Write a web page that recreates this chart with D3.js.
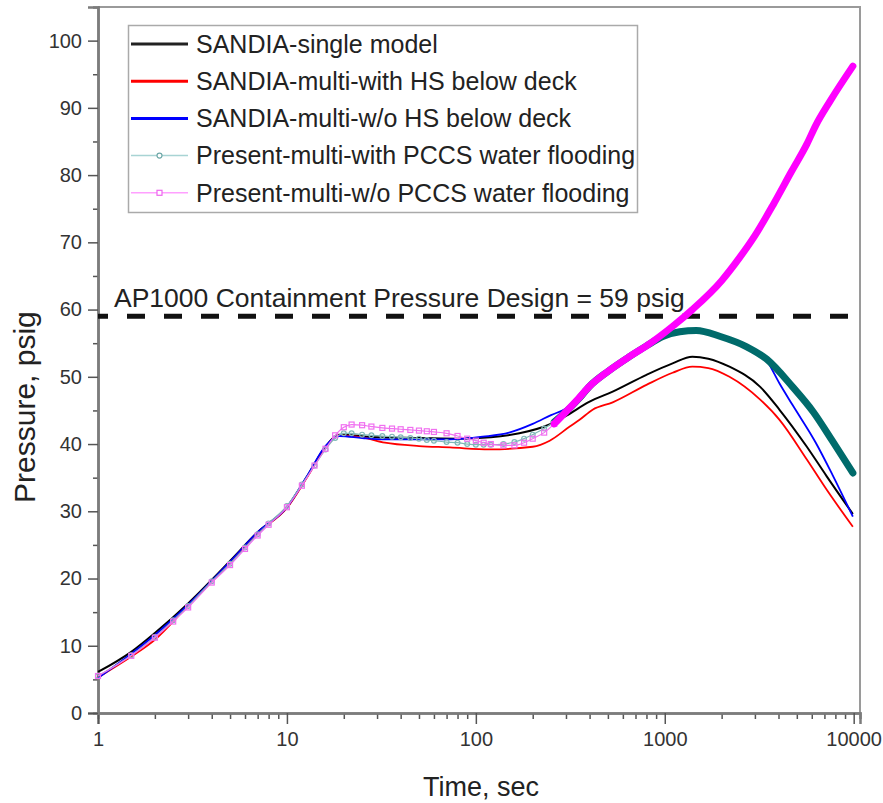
<!DOCTYPE html>
<html>
<head>
<meta charset="utf-8">
<script src="https://cdn.jsdelivr.net/npm/d3@7"></script>
<style>
	body { margin: 0; background: #fff; }
	text { font-family: Arial, "Liberation Sans", sans-serif; }
</style>
</head>
<body>
<div id="viz"></div>
<script>

//data: [time sec, pressure psig]
let sandiaSingle = [[1,6.1],[1.5,9.1],[2,11.9],[3,16.3],[5,22.6],[7,26.9],[10,30.6],[13,35.5],[16,39.6],[19,41.4],
	[22,41.3],[30,41.0],[50,40.9],[80,40.8],[120,41.0],[170,41.6],[240,42.8],[300,44.2],[400,46.3],[530,47.8],
	[800,50.3],[1100,52.0],[1400,53.0],[1700,52.7],[2200,51.5],[3200,48.5],[4050,45.1],[5650,39.6],[7200,35.2],[9900,29.6]]

let sandiaMultiHS = [[1,5.3],[1.5,8.4],[2,10.9],[3,16.0],[5,22.4],[7,26.8],[10,30.5],[13,35.4],[16,39.5],[19,41.3],
	[25,41.0],[33,40.2],[50,39.7],[73,39.5],[118,39.2],[200,39.6],[246,40.5],[314,42.6],[354,43.6],[415,45.1],
	[530,46.2],[800,48.8],[1100,50.6],[1400,51.5],[1700,51.3],[2200,50.0],[3200,46.6],[4050,43.6],[5650,37.7],[7200,33.2],[9900,27.7]]

let sandiaMultiNoHS = [[1,5.2],[1.5,8.8],[2,11.6],[3,16.1],[5,22.5],[7,26.9],[10,30.6],[13,35.6],[16,39.7],[19,41.2],
	[25,40.9],[32,40.7],[73,40.7],[109,41.1],[150,41.7],[200,43.0],[250,44.3],[300,45.3],[350,46.9],[400,48.6],
	[500,50.8],[650,53.0],[800,54.6],[975,56.0],[1200,56.7],[1470,56.9],[1970,56.0],[2700,54.5],[3470,52.4],
	[4050,49.0],[4750,45.8],[6300,40.2],[7700,35.5],[9900,29.2]]

let presentPCCS = [[1,5.5],[1.5,8.6],[2,11.3],[2.5,13.8],[3,15.9],[4,19.6],[5,22.2],[6,24.6],[7,26.6],[8,28.2],
	[10,30.8],[12,34.0],[14,36.8],[16,39.2],[18,40.9],[20,41.6],[22,41.6],[25,41.4],[28,41.3],[32,41.2],[36,41.1],
	[40,41.0],[45,40.9],[50,40.8],[55,40.6],[60,40.5],[70,40.3],[80,40.2],[90,40.0],[100,39.9],[110,39.9],[120,39.9],
	[140,40.0],[160,40.3],[180,40.8],[200,41.4],[230,42.3],[260,43.3],[300,44.8],[350,46.7],[400,48.6],[500,50.8],
	[650,53.0],[800,54.6],[975,56.0],[1200,56.7],[1470,56.9],[1970,56.0],[2700,54.5],[3470,52.6],[4750,48.5],
	[6100,44.8],[7700,40.5],[9900,35.7]]

let presentNoPCCS = [[1,5.5],[1.5,8.5],[2,11.2],[2.5,13.6],[3,15.7],[4,19.4],[5,22.0],[6,24.4],[7,26.4],[8,28.0],
	[10,30.6],[12,33.8],[14,36.8],[16,39.3],[18,41.3],[20,42.5],[22,42.9],[25,42.8],[28,42.6],[32,42.4],[36,42.3],
	[40,42.2],[45,42.1],[50,42.0],[55,41.9],[60,41.8],[70,41.6],[80,41.2],[90,40.8],[100,40.5],[110,40.2],[120,40.0],
	[140,39.8],[160,39.8],[180,40.2],[200,40.8],[230,41.7],[260,43.0],[300,44.8],[350,46.8],[400,48.6],[500,50.8],
	[650,53.0],[800,54.6],[1100,57.5],[1400,60.0],[2000,64.3],[2500,67.8],[3000,71.0],[3750,75.6],[4700,80.6],
	[5650,84.6],[6300,87.4],[7500,91.0],[9900,96.2]]

let seriesNames = ['SANDIA-single model', 'SANDIA-multi-with HS below deck', 'SANDIA-multi-w/o HS below deck',
	'Present-multi-with PCCS water flooding', 'Present-multi-w/o PCCS water flooding']

let xMajorTicks = [1, 10, 100, 1000, 10000]
let yMajorTicks = [0, 10, 20, 30, 40, 50, 60, 70, 80, 90, 100]
let yMinorTicks = [5, 15, 25, 35, 45, 55, 65, 75, 85, 95]
let designPressure = 59

//layout
let width = 883, height = 803
let svg = d3.select('#viz')
			.append('svg')
			.attr('width', width)
			.attr('height', height)

let xScale = d3.scaleLog()
				.domain([1, 10800])
				.range([98, 860])

let yScale = d3.scaleLinear()
				.domain([0, 105])
				.range([713, 7])

let xMinorTicks = []
xMajorTicks.slice(0, -1).forEach(m => d3.range(2, 10).forEach(k => xMinorTicks.push(m * k)))

//frame
svg.append('path')
	.attr('d', `M${xScale.range()[0]},${yScale.range()[1]} H${xScale.range()[1]} V${yScale.range()[0]}`)
	.attr('fill', 'none')
	.attr('stroke', '#9a9a9a')
	.attr('stroke-width', 2)

//axes
function styleAxis(g) {
	g.select('.domain').attr('stroke', '#7c7c7c').attr('stroke-width', 2.5)
	g.selectAll('.tick line').attr('stroke', '#555').attr('stroke-width', 1.5)
	g.selectAll('.tick text').attr('fill', '#333').style('font-size', '20px')
}

svg.append('g')
	.attr('transform', `translate(0,${yScale(0)})`)
	.call(d3.axisBottom(xScale).tickValues(xMinorTicks).tickSize(6).tickFormat(''))
	.call(styleAxis)

svg.append('g')
	.attr('transform', `translate(0,${yScale(0)})`)
	.call(d3.axisBottom(xScale).tickValues(xMajorTicks).tickSize(11).tickPadding(8).tickFormat(d3.format('d')))
	.call(styleAxis)

svg.append('g')
	.attr('transform', `translate(${xScale(1)},0)`)
	.call(d3.axisLeft(yScale).tickValues(yMinorTicks).tickSize(5).tickFormat(''))
	.call(styleAxis)

svg.append('g')
	.attr('transform', `translate(${xScale(1)},0)`)
	.call(d3.axisLeft(yScale).tickValues(yMajorTicks).tickSize(10).tickPadding(6))
	.call(styleAxis)

//axis titles
svg.append('text')
	.attr('transform', `translate(35,${yScale(45.5)}) rotate(-90)`)
	.attr('text-anchor', 'middle')
	.style('font-size', '30px')
	.attr('fill', '#222')
	.text('Pressure, psig')

svg.append('text')
	.attr('x', 481)
	.attr('y', 796)
	.attr('text-anchor', 'middle')
	.style('font-size', '27px')
	.attr('fill', '#222')
	.text('Time, sec')

//design pressure line
svg.append('line')
	.attr('x1', xScale.range()[0])
	.attr('x2', xScale.range()[1])
	.attr('y1', yScale(designPressure))
	.attr('y2', yScale(designPressure))
	.attr('stroke', '#111')
	.attr('stroke-width', 5)
	.attr('stroke-dasharray', '18 19')
	.attr('stroke-dashoffset', 8)

svg.append('text')
	.attr('x', 114)
	.attr('y', yScale(designPressure) - 9)
	.style('font-size', '26.5px')
	.attr('fill', '#222')
	.text(`AP1000 Containment Pressure Design = ${designPressure} psig`)

//curves
let line = d3.line()
			.x(d => xScale(d[0]))
			.y(d => yScale(d[1]))
			.curve(d3.curveMonotoneX)

let thinLines = [
	{data: sandiaSingle, color: '#000', w: 2},
	{data: sandiaMultiHS, color: '#ff0000', w: 1.8},
	{data: sandiaMultiNoHS, color: '#0000ff', w: 1.8}
]

thinLines.forEach(s => {
	svg.append('path')
		.attr('d', line(s.data))
		.attr('fill', 'none')
		.attr('stroke', s.color)
		.attr('stroke-width', s.w)
})

//present model: markers at early output points, dense output later looks like a thick band
let thickFrom = 250

function drawPresent(data, thin, thick, marker) {
	let early = data.filter(d => d[0] <= thickFrom + 20)
	let late = data.filter(d => d[0] >= thickFrom)

	svg.append('path')
		.attr('d', line(early))
		.attr('fill', 'none')
		.attr('stroke', thin)
		.attr('stroke-width', 1.2)

	let g = svg.append('g')
	if (marker === 'circle') {
		g.selectAll('circle')
			.data(early)
			.enter()
			.append('circle')
			.attr('cx', d => xScale(d[0]))
			.attr('cy', d => yScale(d[1]))
			.attr('r', 2.4)
			.attr('fill', 'none')
			.attr('stroke', thin)
			.attr('stroke-width', 1.2)
	} else {
		g.selectAll('rect')
			.data(early)
			.enter()
			.append('rect')
			.attr('x', d => xScale(d[0]) - 2.5)
			.attr('y', d => yScale(d[1]) - 2.5)
			.attr('width', 5)
			.attr('height', 5)
			.attr('fill', 'none')
			.attr('stroke', thin)
			.attr('stroke-width', 1.2)
	}

	svg.append('path')
		.attr('d', line(late))
		.attr('fill', 'none')
		.attr('stroke', thick)
		.attr('stroke-width', 7)
		.attr('stroke-linecap', 'round')
}

drawPresent(presentPCCS, '#7fb8b8', '#006b6b', 'circle')
drawPresent(presentNoPCCS, '#f070f0', '#ff00ff', 'square')

//legend
let legendItems = [
	{color: '#222', w: 3},
	{color: '#ff0000', w: 3},
	{color: '#0000ff', w: 3},
	{color: '#a8d4d4', w: 1.5, marker: 'circle', mcolor: '#6fa8a8'},
	{color: '#ffa0ff', w: 1.5, marker: 'square', mcolor: '#ee66ee'}
]

let legend = svg.append('g')

legend.append('rect')
	.attr('x', 128.5)
	.attr('y', 25.5)
	.attr('width', 509)
	.attr('height', 187)
	.attr('fill', '#fff')
	.attr('stroke', '#aaa')
	.attr('stroke-width', 1.5)

let rowY = i => 44 + i * 37.2

legendItems.forEach((item, i) => {
	legend.append('line')
		.attr('x1', 131).attr('x2', 188)
		.attr('y1', rowY(i)).attr('y2', rowY(i))
		.attr('stroke', item.color)
		.attr('stroke-width', item.w)
	if (item.marker === 'circle') {
		legend.append('circle')
			.attr('cx', 159.5).attr('cy', rowY(i)).attr('r', 2.5)
			.attr('fill', '#fff').attr('stroke', item.mcolor).attr('stroke-width', 1.2)
	}
	if (item.marker === 'square') {
		legend.append('rect')
			.attr('x', 157).attr('y', rowY(i) - 2.5).attr('width', 5).attr('height', 5)
			.attr('fill', '#fff').attr('stroke', item.mcolor).attr('stroke-width', 1.2)
	}
	legend.append('text')
		.attr('x', 196)
		.attr('y', rowY(i))
		.attr('dy', '0.35em')
		.style('font-size', '25px')
		.attr('fill', '#222')
		.text(seriesNames[i])
})

</script>
</body>
</html>
